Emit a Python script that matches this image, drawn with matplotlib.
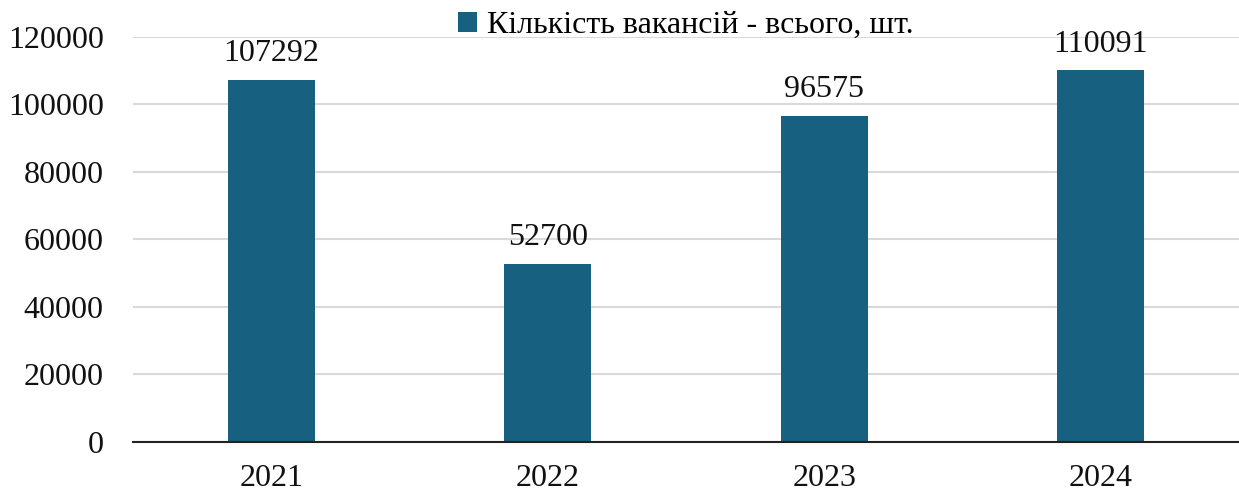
import matplotlib.pyplot as plt

years = ['2021', '2022', '2023', '2024']
vacancies = [107292, 52700, 96575, 110091]
legend_label = 'Кількість вакансій - всього, шт.'

plt.rcParams['font.family'] = ['Liberation Serif', 'DejaVu Serif']

fig = plt.figure(figsize=(12.39, 4.94), dpi=100)
ax = fig.add_axes([0.1073, 0.1053, 0.8927, 0.8198])

bars = ax.bar(years, vacancies, width=0.314, color='#17607f', label=legend_label, zorder=3)
for rect, v in zip(bars, vacancies):
    ax.text(rect.get_x() + rect.get_width() / 2, v + 3500, str(v),
            ha='center', va='bottom', fontsize=23, color='#111111')

ax.set_ylim(0, 120000)
ax.set_xlim(-0.5, 3.5)
ax.set_yticks(range(0, 120001, 20000))
ax.yaxis.grid(True, color='#d9d9d9', linewidth=1.5, zorder=0)
ax.tick_params(axis='both', length=0, labelsize=23, colors='#111111')
ax.tick_params(axis='y', pad=21)
ax.tick_params(axis='x', pad=16)
for side in ['top', 'right', 'left']:
    ax.spines[side].set_visible(False)
ax.spines['bottom'].set_color('#222222')
ax.spines['bottom'].set_linewidth(1.5)
ax.spines['bottom'].set_zorder(4)

ax.legend(loc='upper center', bbox_to_anchor=(0.5, 1.095), frameon=False,
          fontsize=23, handlelength=0.6, handleheight=0.6, handletextpad=0.3,
          borderaxespad=0)

fig.savefig('out.png', dpi=100)
